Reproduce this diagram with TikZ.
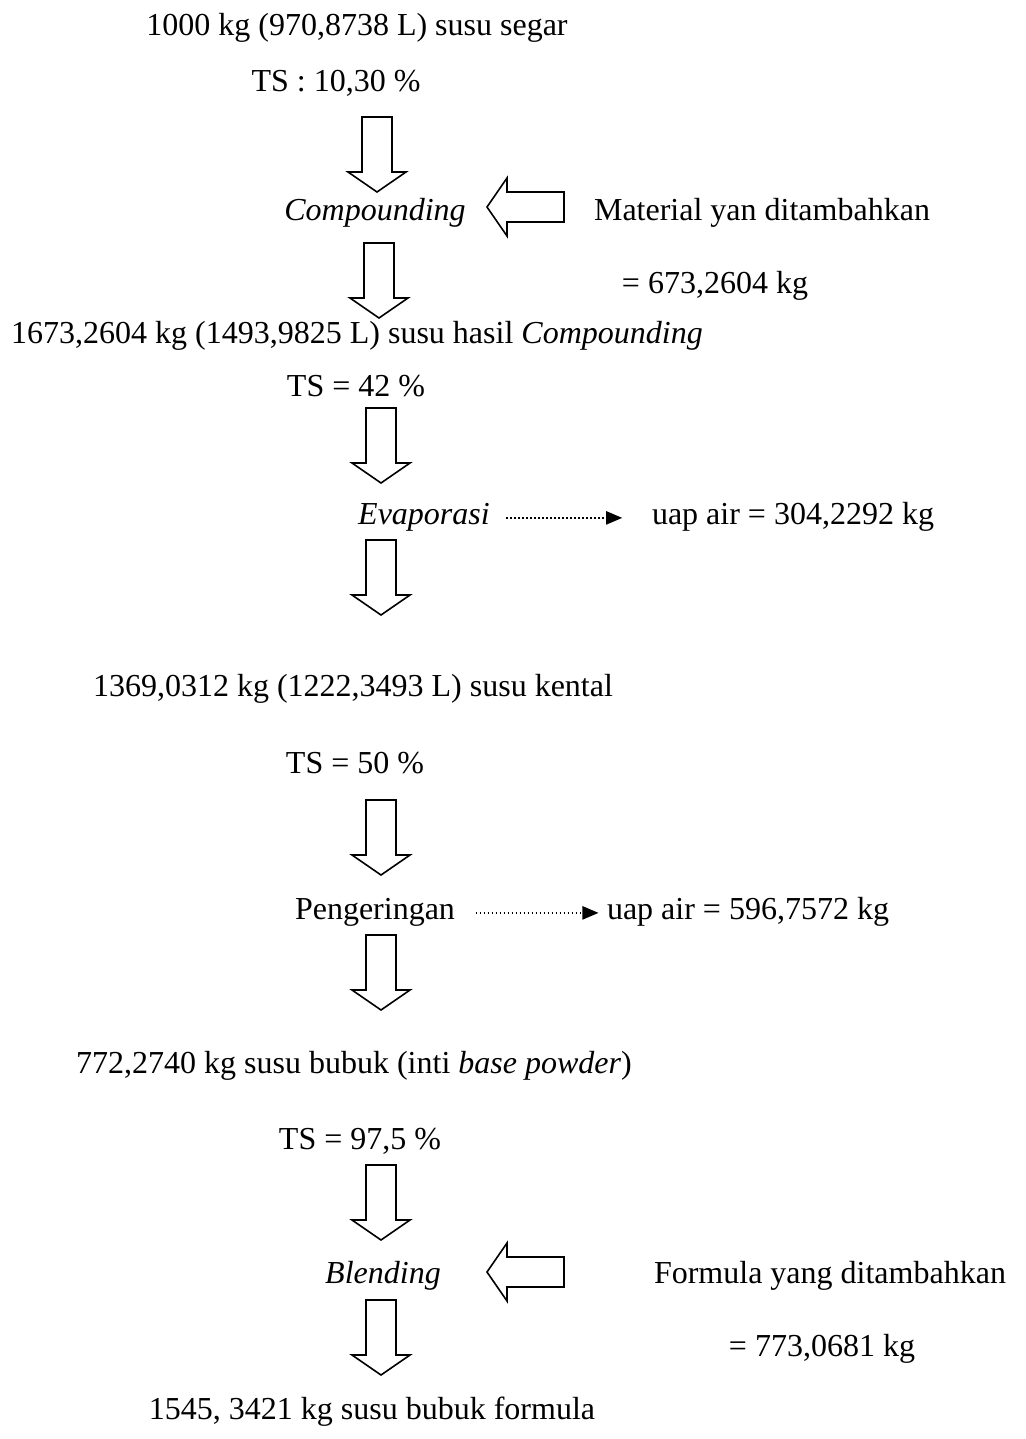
\documentclass[tikz,border=0pt]{standalone}
\usepackage{fontspec}
\setmainfont{Liberation Serif}
\usetikzlibrary{arrows.meta}

\begin{document}
\begin{tikzpicture}[x=0.375pt,y=-0.375pt,
    txt/.style={anchor=base,inner sep=0pt,font=\fontsize{12}{14}\selectfont},
    blockarrow/.style={draw=black,line width=0.6pt,fill=white,line join=miter},
    airflow/.style={densely dotted,line width=0.5pt,-{Triangle[length=6pt,width=5pt]}}]
  \useasboundingbox (0,0) rectangle (1025,1439);

  % bahan dan tahap proses
  \node[txt] (segar) at (357,35) {1000 kg (970,8738 L) susu segar};
  \node[txt] (ts1) at (336,91) {TS : 10,30 \%};
  \node[txt] (comp) at (375,220) {\itshape Compounding};
  \node[txt] (mat) at (762,220) {Material yan ditambahkan};
  \node[txt] (matkg) at (715,293) {= 673,2604 kg};
  \node[txt] (hasil) at (357,343) {1673,2604 kg (1493,9825 L) susu hasil \textit{Compounding}};
  \node[txt] (ts2) at (356,396) {TS = 42 \%};
  \node[txt] (evap) at (424,524) {\itshape Evaporasi};
  \node[txt] (uap1) at (793,524) {uap air = 304,2292 kg};
  \node[txt] (kental) at (353,696) {1369,0312 kg (1222,3493 L) susu kental};
  \node[txt] (ts3) at (355,773) {TS = 50 \%};
  \node[txt] (kering) at (375,919) {Pengeringan};
  \node[txt] (uap2) at (748,919) {uap air = 596,7572 kg};
  \node[txt] (bubuk) at (354,1073) {772,2740 kg susu bubuk (inti \textit{base powder})};
  \node[txt] (ts4) at (360,1149) {TS = 97,5 \%};
  \node[txt] (blend) at (383,1283) {\itshape Blending};
  \node[txt] (form) at (830,1283) {Formula yang ditambahkan};
  \node[txt] (formkg) at (822,1356) {= 773,0681 kg};
  \node[txt] (akhir) at (372,1419) {1545, 3421 kg susu bubuk formula};

  % panah blok ke bawah (x tengah, y atas)
  \foreach \x/\t in {377/117, 379/243, 381/408, 381/540, 381/800, 381/935, 381/1165, 381/1300}
    \draw[blockarrow] (\x-15,\t) -- (\x+15,\t) -- (\x+15,\t+55) -- (\x+29,\t+55)
      -- (\x,\t+75) -- (\x-29,\t+55) -- (\x-15,\t+55) -- cycle;

  % panah blok masuk dari kanan (x ujung, y tengah)
  \foreach \x/\m in {487/207, 487/1272}
    \draw[blockarrow] (\x,\m) -- (\x+20,\m-29) -- (\x+20,\m-15) -- (\x+77,\m-15)
      -- (\x+77,\m+15) -- (\x+20,\m+15) -- (\x+20,\m+29) -- cycle;

  % uap air yang keluar
  \draw[airflow,shorten <=6pt,shorten >=11pt] (evap.mid east) -- (uap1.mid west);
  \draw[airflow,shorten <=7.5pt,shorten >=3pt] (kering.mid east) -- (uap2.mid west);
\end{tikzpicture}
\end{document}
